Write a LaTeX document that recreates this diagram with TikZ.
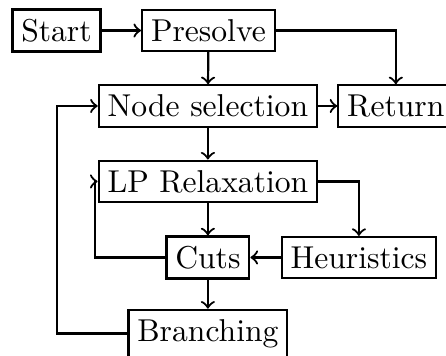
\documentclass[tikz,border=0pt]{standalone}
\usetikzlibrary{positioning}

\begin{document}
\begin{tikzpicture}[
  line width=0.7pt,
  blk/.style={rectangle, draw, inner xsep=2.8pt, inner ysep=3pt},
  arr/.style={->},
]
\useasboundingbox (0,0) rectangle (4.958,-3.957);

% ---- main column ----
\node[blk] (start) at (0.628,-0.339) {Start};
\node[blk] (pre)   at (2.317,-0.339) {Presolve};
\node[blk] (nsel)  at (2.311,-1.178) {Node selection};
\node[blk] (ret)   at (4.40,-1.178)  {Return};
\node[blk] (lp)    at (2.311,-2.017) {LP Relaxation};
\node[blk] (cuts)  at (2.311,-2.862) {Cuts};
\node[blk] (heur)  at (3.990,-2.862) {Heuristics};
\node[blk] (br)    at (2.311,-3.707) {Branching};

\draw[arr] (start) -- (pre);
\draw[arr] (pre) -- (nsel);
\draw[arr] (pre.east) -| (ret.north);
\draw[arr] (nsel) -- (ret);
\draw[arr] (nsel) -- (lp);
\draw[arr] (lp) -- (cuts);
\draw[arr] (lp.east) -| (heur.north);
\draw[arr] (heur) -- (cuts);
\draw[arr] (cuts) -- (br);

% ---- loops back ----
\draw[arr] (cuts.west) -- (1.056,0 |- cuts.west) |- (lp.west);
\draw[arr] (br.west) -- (0.633,0 |- br.west) |- (nsel.west);

\end{tikzpicture}
\end{document}
